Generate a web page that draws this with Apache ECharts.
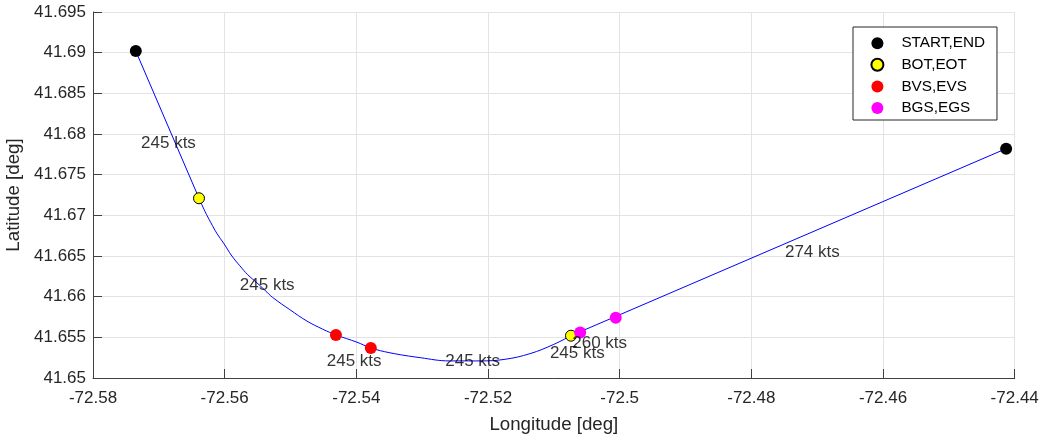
<!DOCTYPE html>
<html>
<head>
<meta charset="utf-8">
<script src="https://cdn.jsdelivr.net/npm/echarts@6/dist/echarts.min.js"></script>
<style>
  html, body { margin: 0; padding: 0; background: #ffffff; }
  #chart { width: 1041px; height: 438px; }
</style>
</head>
<body>
<div id="chart"></div>
<script>
// Flight track: straight inbound leg, turn, straight outbound leg
const inboundLon = [-72.5735, -72.5639];
const inboundLat = [41.6902, 41.6721];

const turnLon = [-72.5639, -72.5630, -72.5621, -72.5612, -72.5601, -72.5589, -72.5577,
                 -72.5565, -72.5551, -72.5539, -72.5527, -72.5501, -72.5475, -72.5451,
                 -72.5431, -72.5399, -72.5378, -72.5349, -72.5303, -72.5258, -72.5212,
                 -72.5174, -72.5136, -72.5101, -72.5074];
const turnLat = [41.6721, 41.6705, 41.6691, 41.6678, 41.6665, 41.6650, 41.6638,
                 41.6627, 41.6617, 41.6608, 41.6599, 41.6584, 41.6570, 41.6560,
                 41.6553, 41.6544, 41.6537, 41.6531, 41.6525, 41.6521, 41.6521,
                 41.6523, 41.6530, 41.6541, 41.6552];

const outboundLon = [-72.5074, -72.4413];
const outboundLat = [41.6552, 41.6782];

// Event markers
const startEndLon = [-72.5735, -72.4413];
const startEndLat = [41.6902, 41.6782];
const botEotLon = [-72.5639, -72.5074];
const botEotLat = [41.6721, 41.6552];
const bvsEvsLon = [-72.5431, -72.5378];
const bvsEvsLat = [41.6553, 41.6537];
const bgsEgsLon = [-72.5060, -72.5006];
const bgsEgsLat = [41.6556, 41.6574];

// Ground speed annotations (anchored at the left edge of each text)
const speeds = [245, 245, 245, 245, 245, 260, 274];
const speedLon = [-72.5727, -72.5577, -72.5445, -72.5265, -72.5106, -72.5072, -72.4749];
const speedLat = [41.6788, 41.6614, 41.6521, 41.6521, 41.6530, 41.6543, 41.6655];

// Axis ticks
const lonMin = -72.58, lonMax = -72.44, lonStep = 0.02;
const latMin = 41.65, latMax = 41.695, latStep = 0.005;

const zip = (xs, ys) => xs.map((x, i) => [x, ys[i]]);

const FONT = '"Liberation Sans", Arial, Helvetica, sans-serif';
const AXIS_COLOR = '#404040';
const TEXT_COLOR = '#262626';
const GRID_COLOR = '#e3e3e3';

const trackLine = (data, smooth) => ({
  type: 'line',
  data: data,
  smooth: smooth,
  symbol: 'none',
  silent: true,
  lineStyle: { color: '#0000ff', width: 1 },
  z: 2
});

const marker = (name, data, color, size, border) => ({
  type: 'scatter',
  name: name,
  data: data,
  symbol: 'circle',
  symbolSize: size,
  itemStyle: border
    ? { color: color, borderColor: '#000000', borderWidth: 1, opacity: 1 }
    : { color: color, opacity: 1 },
  z: 4
});

const chart = echarts.init(document.getElementById('chart'), null, { renderer: 'canvas' });

chart.setOption({
  animation: false,
  backgroundColor: '#ffffff',
  textStyle: { fontFamily: FONT },
  grid: { left: 93, right: 26.3, top: 12, bottom: 60, containLabel: false, outerBoundsMode: 'none' },
  xAxis: {
    type: 'value',
    min: lonMin, max: lonMax, interval: lonStep,
    name: 'Longitude [deg]',
    nameLocation: 'middle',
    nameGap: 37,
    nameTextStyle: { color: TEXT_COLOR, fontSize: 18.7, fontFamily: FONT },
    axisLine: { show: true, onZero: false, lineStyle: { color: AXIS_COLOR, width: 1 } },
    axisTick: { show: true, inside: true, length: 9, lineStyle: { color: AXIS_COLOR } },
    axisLabel: { color: TEXT_COLOR, fontSize: 17, fontFamily: FONT, margin: 12 },
    splitLine: { show: true, lineStyle: { color: GRID_COLOR, width: 1 } }
  },
  yAxis: {
    type: 'value',
    min: latMin, max: latMax, interval: latStep,
    name: 'Latitude [deg]',
    nameLocation: 'middle',
    nameGap: 64,
    nameTextStyle: { color: TEXT_COLOR, fontSize: 18.7, fontFamily: FONT },
    axisLine: { show: true, onZero: false, lineStyle: { color: AXIS_COLOR, width: 1 } },
    axisTick: { show: true, inside: true, length: 9, lineStyle: { color: AXIS_COLOR } },
    axisLabel: { color: TEXT_COLOR, fontSize: 17, fontFamily: FONT, margin: 7 },
    splitLine: { show: true, lineStyle: { color: GRID_COLOR, width: 1 } }
  },
  legend: {
    data: ['START,END', 'BOT,EOT', 'BVS,EVS', 'BGS,EGS'],
    orient: 'vertical',
    left: 853, top: 27,
    itemWidth: 38, itemHeight: 12,
    itemGap: 6.6,
    padding: [8.7, 12, 4.5, 17.4],
    borderColor: '#262626', borderWidth: 1,
    backgroundColor: '#ffffff',
    textStyle: { color: '#000000', fontSize: 15.3, fontFamily: FONT },
    selectedMode: false
  },
  series: [
    trackLine(zip(inboundLon, inboundLat), false),
    trackLine(zip(turnLon, turnLat), 0.4),
    trackLine(zip(outboundLon, outboundLat), false),
    {
      type: 'scatter',
      name: 'speeds',
      data: speeds.map((s, i) => ({ value: [speedLon[i], speedLat[i]], label: { formatter: s + ' kts' } })),
      symbolSize: 0,
      silent: true,
      label: {
        show: true,
        position: 'right',
        distance: 0,
        align: 'left',
        verticalAlign: 'middle',
        color: '#000000',
        fontSize: 17,
        fontFamily: FONT
      },
      z: 5
    },
    marker('START,END', zip(startEndLon, startEndLat), '#000000', 12, false),
    marker('BOT,EOT', zip(botEotLon, botEotLat), '#ffff00', 11, true),
    marker('BVS,EVS', zip(bvsEvsLon, bvsEvsLat), '#ff0000', 12, false),
    marker('BGS,EGS', zip(bgsEgsLon, bgsEgsLat), '#ff00ff', 12, false)
  ]
});
</script>
</body>
</html>
